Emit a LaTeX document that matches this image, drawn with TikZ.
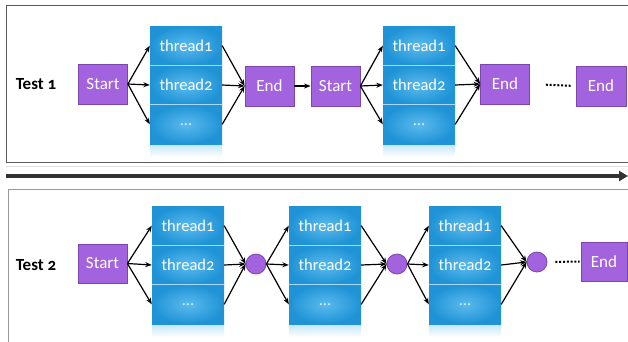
\documentclass[tikz,border=0pt]{standalone}
\usepackage{fontspec}
\setmainfont{Carlito}[Numbers=OldStyle]
\usetikzlibrary{arrows.meta,shadings}
\definecolor{pur}{HTML}{A463DE}
\definecolor{purd}{HTML}{7D45AE}
\definecolor{bluo}{HTML}{1F93D6}
\definecolor{blui}{HTML}{5BBAEE}
\definecolor{blud}{HTML}{A9D9F4}
\definecolor{refl}{HTML}{C8E7F8}
\tikzset{
  lbl/.style={font=\fontsize{17}{18}\selectfont\bfseries, text=black},
  pbox/.style={draw=purd, fill=pur, line width=0.8pt, text=white, minimum width=49pt, minimum height=40pt, inner sep=0pt, font=\fontsize{17}{18}\selectfont},
  pcirc/.style={circle, draw=purd, fill=pur, line width=0.8pt, minimum size=20pt, inner sep=0pt},
  cell/.style={inner color=blui, outer color=bluo, minimum width=72pt, minimum height=39.33pt, inner sep=0pt, text=white, font=\fontsize{16.5}{18}\selectfont},
  conn/.style={-{Stealth[length=6.5pt,width=5pt]}, line width=1.2pt, black},
  dotline/.style={line width=2pt, dash pattern=on 2pt off 1.8pt, black},
}
\newcommand\mythreadcol[3]{% name, center x, top y
  \node[cell] (#1a) at (#2,#3+19.67) {thread1};
  \node[cell] (#1b) at (#2,#3+59) {thread2};
  \node[cell] (#1c) at (#2,#3+98.33) {\textcolor{white!80!blui}{...}};
  \draw[blud, line width=1pt] (#1a.south west) -- (#1a.south east);
  \draw[blud, line width=1pt] (#1b.south west) -- (#1b.south east);
  \shade[top color=refl, bottom color=white] (#2-36,#3+119) rectangle (#2+36,#3+131);
}
\begin{document}
\begin{tikzpicture}[x=1pt,y=-1pt]
\useasboundingbox (0,0) rectangle (628,341);
% panels
\draw[draw=black!65, line width=1pt] (6,5) rectangle (640,162);
\draw[draw=black!12, line width=1pt] (6,166) -- (628,166);
\draw[draw=black!40, line width=1pt] (8,189) rectangle (640,360);
% time arrow
\coordinate (ta) at (6,176);
\coordinate (tb) at (628,176);
\draw[draw=black!80, line width=3.5pt, -{Triangle[length=9pt,width=10pt]}] (ta) -- (tb);

% ---- Test 1
\node[lbl] (t1) at (36,84) {Test 1};
\node[pbox] (s1) at (103,84) {Start};
\mythreadcol{A}{186}{26}
\node[pbox] (e1) at (269.5,86) {End};
\node[pbox] (s2) at (335.5,86) {Start};
\mythreadcol{B}{419}{26}
\node[pbox] (e2) at (505,84) {End};
\node[pbox, minimum width=50pt] (e3) at (601,86) {End};

\foreach \c in {a,b,c} {
  \draw[conn] (s1.east) -- (A\c.west);
  \draw[conn] (A\c.east) -- (e1.west);
  \draw[conn] (s2.east) -- (B\c.west);
  \draw[conn] (B\c.east) -- (e2.west);
}
\draw[conn] (e1.east) -- (s2.west);
\draw[dotline, shorten <=16pt, shorten >=4pt] (e2.east) -- (e3.west);

% ---- Test 2
\node[lbl] (t2) at (36,265) {Test 2};
\node[pbox, minimum height=39pt] (s3) at (102.5,263.5) {Start};
\mythreadcol{C}{188}{206}
\node[pcirc] (c1) at (256,264) {};
\mythreadcol{D}{325}{206}
\node[pcirc] (c2) at (397,264) {};
\mythreadcol{E}{465}{206}
\node[pcirc] (c3) at (537,262) {};
\node[pbox, minimum width=46pt, minimum height=39pt] (e4) at (604,261.5) {End};

\foreach \c in {a,b,c} {
  \draw[conn] (s3.east) -- (C\c.west);
  \draw[conn] (C\c.east) -- (c1.west);
  \draw[conn] (c1.east) -- (D\c.west);
  \draw[conn] (D\c.east) -- (c2.west);
  \draw[conn] (c2.east) -- (E\c.west);
  \draw[conn] (E\c.east) -- (c3.west);
}
\draw[dotline, shorten <=8pt, shorten >=1pt] (c3.east) -- (e4.west);
\end{tikzpicture}
\end{document}
